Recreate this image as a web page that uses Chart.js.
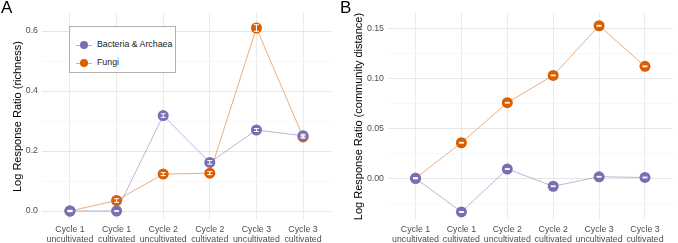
<!DOCTYPE html>
<html>
<head>
<meta charset="utf-8">
<script src="https://cdn.jsdelivr.net/npm/chart.js@4.4.1/dist/chart.umd.min.js"></script>
<style>
  body { margin: 0; background: #fff; font-family: "Liberation Sans", Arial, sans-serif; }
  #wrap { position: relative; width: 678px; height: 243px; overflow: hidden; }
  .panel { position: absolute; top: 0; width: 339px; height: 243px; }
  .tag { position: absolute; top: -2px; font-size: 17px; color: #000; }
  .legend { position: absolute; left: 69px; top: 26px; width: 107px; height: 47px;
            border: 1px solid #b0b0b0; background: #fff; box-sizing: border-box; }
  .legend .item { position: absolute; left: 0; height: 10px; font-size: 8.8px; color: #1a1a1a; }
  .legend .line { position: absolute; left: 6px; top: 4.5px; width: 16px; height: 1px; }
  .legend .dot { position: absolute; left: 10px; top: 1px; width: 8px; height: 8px; border-radius: 50%; }
  .legend .txt { position: absolute; left: 27px; top: -1px; white-space: nowrap; line-height: 11px; }
</style>
</head>
<body>
<div id="wrap">
  <div class="panel" style="left:0"><canvas id="chartA" width="339" height="243"></canvas></div>
  <div class="panel" style="left:339px"><canvas id="chartB" width="339" height="243"></canvas></div>
  <div class="tag" style="left:1px">A</div>
  <div class="tag" style="left:340px">B</div>
  <div class="legend">
    <div class="item" style="top:13px">
      <div class="line" style="background:rgba(117,112,179,0.55)"></div>
      <div class="dot" style="background:#7570B3"></div>
      <div class="txt">Bacteria &amp; Archaea</div>
    </div>
    <div class="item" style="top:31px">
      <div class="line" style="background:rgba(217,95,2,0.55)"></div>
      <div class="dot" style="background:#D95F02"></div>
      <div class="txt">Fungi</div>
    </div>
  </div>
</div>
<script>
// categories (two-line tick labels)
const stages = [
  ['Cycle 1', 'uncultivated'], ['Cycle 1', 'cultivated'],
  ['Cycle 2', 'uncultivated'], ['Cycle 2', 'cultivated'],
  ['Cycle 3', 'uncultivated'], ['Cycle 3', 'cultivated'],
];

// panel A: log response ratio of richness
const richBacteria = [0.000, 0.000, 0.318, 0.162, 0.270, 0.251];
const richBacteriaErr = [0.002, 0.001, 0.006, 0.006, 0.005, 0.005];
const richFungi = [0.000, 0.035, 0.123, 0.126, 0.610, 0.247];
const richFungiErr = [0.002, 0.006, 0.005, 0.005, 0.011, 0.004];
const richTicks = [0, 0.1, 0.2, 0.3, 0.4, 0.5, 0.6];

// panel B: log response ratio of community distance
const distBacteria = [0.0000, -0.0338, 0.0093, -0.0080, 0.0015, 0.0008];
const distBacteriaErr = [0.0004, 0.0004, 0.0004, 0.0004, 0.0004, 0.0004];
const distFungi = [0.0000, 0.0357, 0.0759, 0.1033, 0.1532, 0.1124];
const distFungiErr = [0.0004, 0.0004, 0.0004, 0.0004, 0.0004, 0.0004];
const distTicks = [-0.025, 0, 0.025, 0.05, 0.075, 0.1, 0.125, 0.15];

const PURPLE = '#7570B3';
const ORANGE = '#D95F02';
const FONT = '"Liberation Sans", Arial, sans-serif';

// white error bars drawn inside each point
const errorBars = {
  id: 'errorBars',
  afterDatasetsDraw(chart) {
    const ctx = chart.ctx;
    const y = chart.scales.y;
    ctx.save();
    ctx.strokeStyle = '#ffffff';
    ctx.lineWidth = 1;
    chart.data.datasets.forEach((ds, di) => {
      const meta = chart.getDatasetMeta(di);
      meta.data.forEach((pt, i) => {
        const v = ds.data[i].y;
        const e = ds.errs[i];
        const top = y.getPixelForValue(v + e);
        const bot = y.getPixelForValue(v - e);
        const x = pt.x;
        ctx.beginPath();
        ctx.moveTo(x, top); ctx.lineTo(x, bot);
        ctx.moveTo(x - 2.5, top); ctx.lineTo(x + 2.5, top);
        ctx.moveTo(x - 2.5, bot); ctx.lineTo(x + 2.5, bot);
        ctx.stroke();
      });
    });
    ctx.restore();
  },
};

function series(label, vals, errs, color, lineColor) {
  return {
    label,
    data: vals.map((v, i) => ({ x: i, y: v })),
    errs,
    borderColor: lineColor,
    borderWidth: 1,
    backgroundColor: color,
    pointBackgroundColor: color,
    pointBorderWidth: 0,
    pointRadius: 5.5,
    tension: 0,
  };
}

function makeChart(id, opts) {
  const isMajor = (v) => Math.abs(v / opts.major - Math.round(v / opts.major)) < 1e-6;
  return new Chart(document.getElementById(id), {
    type: 'line',
    data: {
      datasets: [
        series('Bacteria & Archaea', opts.bac, opts.bacErr, PURPLE, 'rgba(117,112,179,0.5)'),
        series('Fungi', opts.fun, opts.funErr, ORANGE, 'rgba(217,95,2,0.5)'),
      ],
    },
    plugins: [errorBars],
    options: {
      responsive: false,
      animation: false,
      layout: { padding: { top: 13, right: opts.padRight, left: 0, bottom: 0 } },
      plugins: { legend: { display: false }, tooltip: { enabled: false } },
      scales: {
        x: {
          type: 'linear',
          min: -0.6,
          max: 5.6,
          afterBuildTicks: (s) => { s.ticks = stages.map((_, i) => ({ value: i })); },
          afterFit: (s) => { s.height = 23; },
          border: { display: false },
          grid: { color: '#ebebeb', lineWidth: 1, drawTicks: false },
          ticks: {
            autoSkip: false, maxRotation: 0, padding: 5,
            color: '#4d4d4d', font: { family: FONT, size: 8.8, lineHeight: 1.1 },
            callback: (v) => stages[v],
          },
        },
        y: {
          min: opts.min,
          max: opts.max,
          afterBuildTicks: (s) => { s.ticks = opts.ticks.map((v) => ({ value: v })); },
          afterFit: (s) => { s.width = opts.axisWidth; },
          border: { display: false },
          grid: {
            drawTicks: false,
            color: (c) => (isMajor(c.tick.value) ? '#e6e6e6' : '#f3f3f3'),
            lineWidth: (c) => (isMajor(c.tick.value) ? 1 : 0.7),
          },
          ticks: {
            padding: 4,
            color: '#4d4d4d', font: { family: FONT, size: 8.8 },
            callback: (v) => (isMajor(v) ? v.toFixed(opts.digits) : ''),
          },
          title: {
            display: true, text: opts.title, color: '#000',
            font: { family: FONT, size: 11 }, padding: { top: opts.titlePad, bottom: 0 },
          },
        },
      },
    },
  });
}

makeChart('chartA', {
  bac: richBacteria, bacErr: richBacteriaErr, fun: richFungi, funErr: richFungiErr,
  ticks: richTicks, major: 0.2, digits: 1, min: -0.03, max: 0.66,
  title: 'Log Response Ratio (richness)', titlePad: 11, axisWidth: 42, padRight: 8,
});

makeChart('chartB', {
  bac: distBacteria, bacErr: distBacteriaErr, fun: distFungi, funErr: distFungiErr,
  ticks: distTicks, major: 0.05, digits: 2, min: -0.0419, max: 0.166,
  title: 'Log Response Ratio (community distance)', titlePad: 13, axisWidth: 49, padRight: 1,
});
</script>
</body>
</html>
